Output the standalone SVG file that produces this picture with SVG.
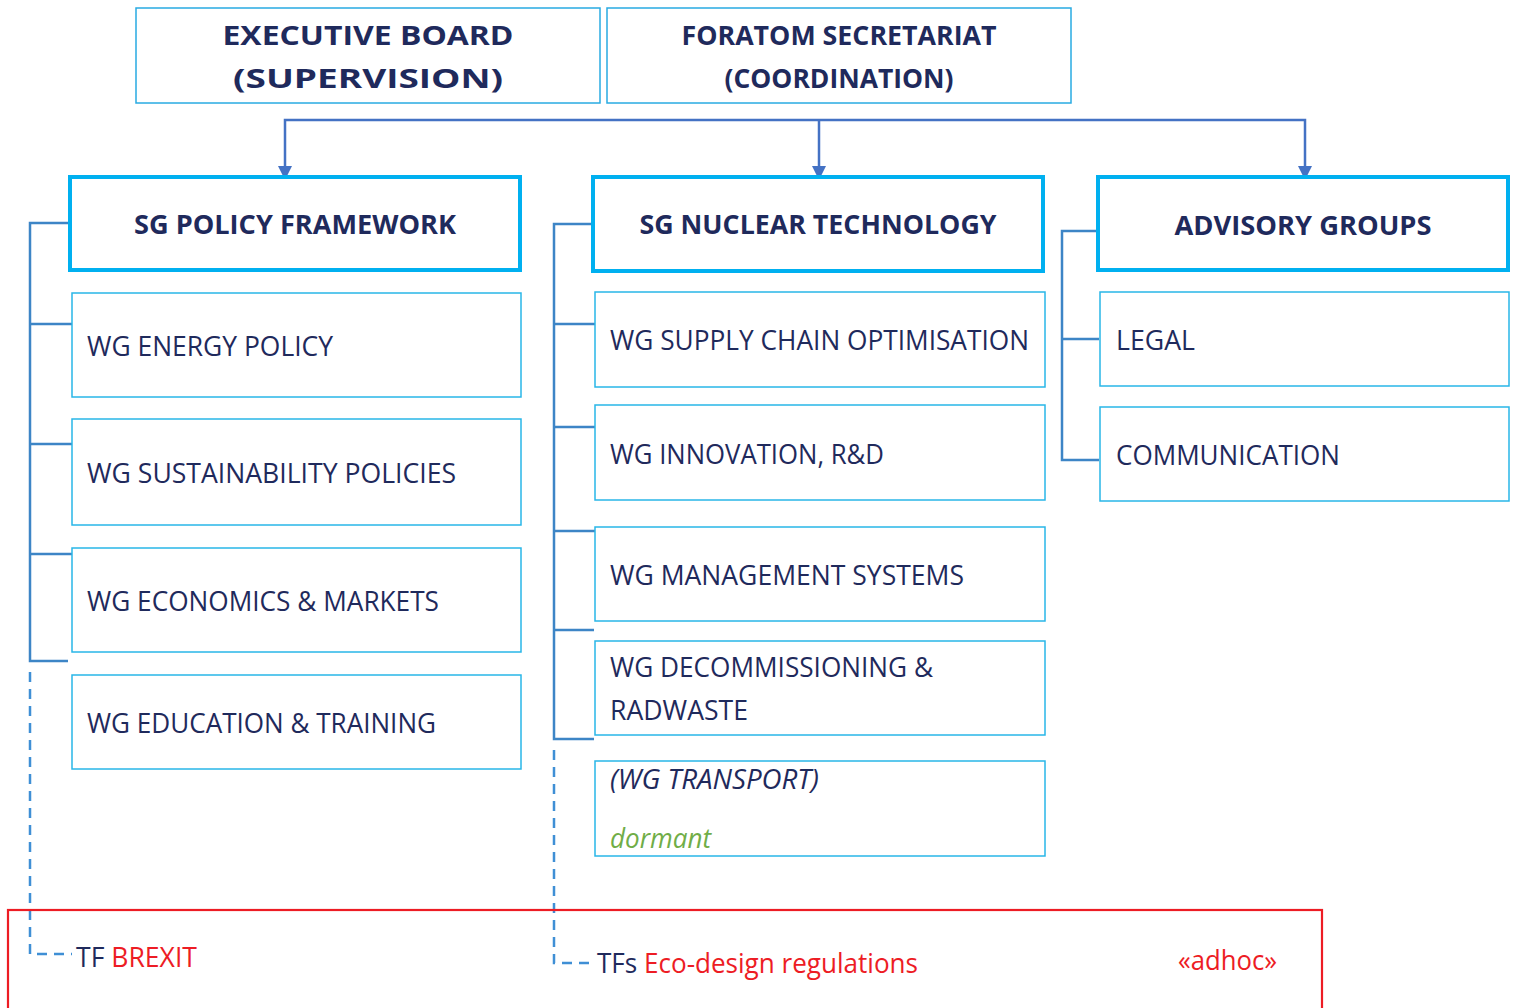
<svg xmlns="http://www.w3.org/2000/svg" width="1515" height="1008" viewBox="0 0 1515 1008">
<style>
.top{fill:#fff;stroke:#29abe2;stroke-width:1.5}
.sg{fill:#fff;stroke:#00b0f0;stroke-width:4}
.wg{fill:#fff;stroke:#29b6e8;stroke-width:1.5}
.t{font-family:"Open Sans","Noto Sans",sans-serif;fill:#1f2a5c;font-size:27px}
.b{font-family:"Open Sans","Noto Sans",sans-serif;fill:#1f2a5c;font-weight:bold;font-size:27px}
.red{fill:#ed1c24}
.grn{fill:#70ad47}
.ln{fill:none;stroke:#3d85c6;stroke-width:2.5}
.dl{fill:none;stroke:#3f8fd5;stroke-width:2.5;stroke-dasharray:10 7}
.ar{fill:none;stroke:#4472c4;stroke-width:2.5}
</style>
<defs>
<marker id="ah" viewBox="0 0 14 14" refX="14" refY="7" markerWidth="14" markerHeight="14" markerUnits="userSpaceOnUse" orient="auto-start-reverse">
<path d="M0,0 L14,7 L0,14 Z" fill="#4472c4"/>
</marker>
</defs>

<g id="connectors">
<path class="ar" d="M285,180 V120 H1305 V180" marker-start="url(#ah)" marker-end="url(#ah)"/>
<path class="ar" d="M819,120 V180" marker-end="url(#ah)"/>
<path class="ln" d="M69,223 H30 V661 H68 M30,324 H72 M30,444 H72 M30,554 H72"/>
<path class="dl" d="M30,672 V954 H72"/>
<path class="ln" d="M593,224 H554 V739 H594 M554,324 H595 M554,427 H595 M554,531 H595 M554,630 H594"/>
<path class="dl" d="M554,750 V963 H592"/>
<path class="ln" d="M1098,231 H1062 V460 H1099 M1062,339 H1099"/>
</g>

<g id="executive-board">
<rect class="top" x="136" y="8" width="464" height="95"/>
<text class="b" x="368" y="45" text-anchor="middle" font-size="29" textLength="291" lengthAdjust="spacingAndGlyphs">EXECUTIVE BOARD</text>
<text class="b" x="368" y="88" text-anchor="middle" font-size="29" textLength="270" lengthAdjust="spacingAndGlyphs">(SUPERVISION)</text>
</g>
<g id="foratom-secretariat">
<rect class="top" x="607" y="8" width="464" height="95"/>
<text class="b" x="839" y="45" text-anchor="middle" textLength="315" lengthAdjust="spacingAndGlyphs">FORATOM SECRETARIAT</text>
<text class="b" x="839" y="88" text-anchor="middle" textLength="229" lengthAdjust="spacingAndGlyphs">(COORDINATION)</text>
</g>

<g id="sg-policy-framework">
<rect class="sg" x="70" y="177" width="450" height="93"/>
<text class="b" x="295" y="234" text-anchor="middle" textLength="322" lengthAdjust="spacingAndGlyphs">SG POLICY FRAMEWORK</text>
</g>
<g id="sg-nuclear-technology">
<rect class="sg" x="593" y="177" width="450" height="94"/>
<text class="b" x="818" y="234" text-anchor="middle" textLength="357" lengthAdjust="spacingAndGlyphs">SG NUCLEAR TECHNOLOGY</text>
</g>
<g id="advisory-groups">
<rect class="sg" x="1098" y="177" width="410" height="93"/>
<text class="b" x="1303" y="235" text-anchor="middle" textLength="257" lengthAdjust="spacingAndGlyphs">ADVISORY GROUPS</text>
</g>

<g id="wg-energy-policy">
<rect class="wg" x="72" y="293" width="449" height="104"/>
<text class="t" x="87" y="356" textLength="246" lengthAdjust="spacingAndGlyphs">WG ENERGY POLICY</text>
</g>
<g id="wg-sustainability-policies">
<rect class="wg" x="72" y="419" width="449" height="106"/>
<text class="t" x="87" y="483" textLength="369" lengthAdjust="spacingAndGlyphs">WG SUSTAINABILITY POLICIES</text>
</g>
<g id="wg-economics-markets">
<rect class="wg" x="72" y="548" width="449" height="104"/>
<text class="t" x="87" y="611" textLength="352" lengthAdjust="spacingAndGlyphs">WG ECONOMICS &amp; MARKETS</text>
</g>
<g id="wg-education-training">
<rect class="wg" x="72" y="675" width="449" height="94"/>
<text class="t" x="87" y="733" textLength="349" lengthAdjust="spacingAndGlyphs">WG EDUCATION &amp; TRAINING</text>
</g>

<g id="wg-supply-chain">
<rect class="wg" x="595" y="292" width="450" height="95"/>
<text class="t" x="610" y="350" textLength="419" lengthAdjust="spacingAndGlyphs">WG SUPPLY CHAIN OPTIMISATION</text>
</g>
<g id="wg-innovation">
<rect class="wg" x="595" y="405" width="450" height="95"/>
<text class="t" x="610" y="464" textLength="274" lengthAdjust="spacingAndGlyphs">WG INNOVATION, R&amp;D</text>
</g>
<g id="wg-management-systems">
<rect class="wg" x="595" y="527" width="450" height="94"/>
<text class="t" x="610" y="585" textLength="354" lengthAdjust="spacingAndGlyphs">WG MANAGEMENT SYSTEMS</text>
</g>
<g id="wg-decommissioning">
<rect class="wg" x="595" y="641" width="450" height="94"/>
<text class="t" x="610" y="677" textLength="323" lengthAdjust="spacingAndGlyphs">WG DECOMMISSIONING &amp;</text>
<text class="t" x="610" y="720" textLength="138" lengthAdjust="spacingAndGlyphs">RADWASTE</text>
</g>
<g id="wg-transport">
<rect class="wg" x="595" y="761" width="450" height="95"/>
<text class="t" x="610" y="789" font-style="italic" textLength="209" lengthAdjust="spacingAndGlyphs">(WG TRANSPORT)</text>
<text class="t grn" x="610" y="848" font-style="italic" textLength="101" lengthAdjust="spacingAndGlyphs">dormant</text>
</g>

<g id="legal">
<rect class="wg" x="1100" y="292" width="409" height="94"/>
<text class="t" x="1116" y="350" textLength="79" lengthAdjust="spacingAndGlyphs">LEGAL</text>
</g>
<g id="communication">
<rect class="wg" x="1100" y="407" width="409" height="94"/>
<text class="t" x="1116" y="465" textLength="224" lengthAdjust="spacingAndGlyphs">COMMUNICATION</text>
</g>

<g id="task-forces">
<rect x="8" y="910" width="1314" height="110" fill="none" stroke="#ed1c24" stroke-width="2.2"/>
<text class="t" x="76" y="967" textLength="121" lengthAdjust="spacingAndGlyphs">TF <tspan class="red">BREXIT</tspan></text>
<text class="t" x="597" y="973" textLength="321" lengthAdjust="spacingAndGlyphs">TFs <tspan class="red">Eco-design regulations</tspan></text>
<text class="t red" x="1178" y="970" textLength="99" lengthAdjust="spacingAndGlyphs">«adhoc»</text>
</g>
</svg>
